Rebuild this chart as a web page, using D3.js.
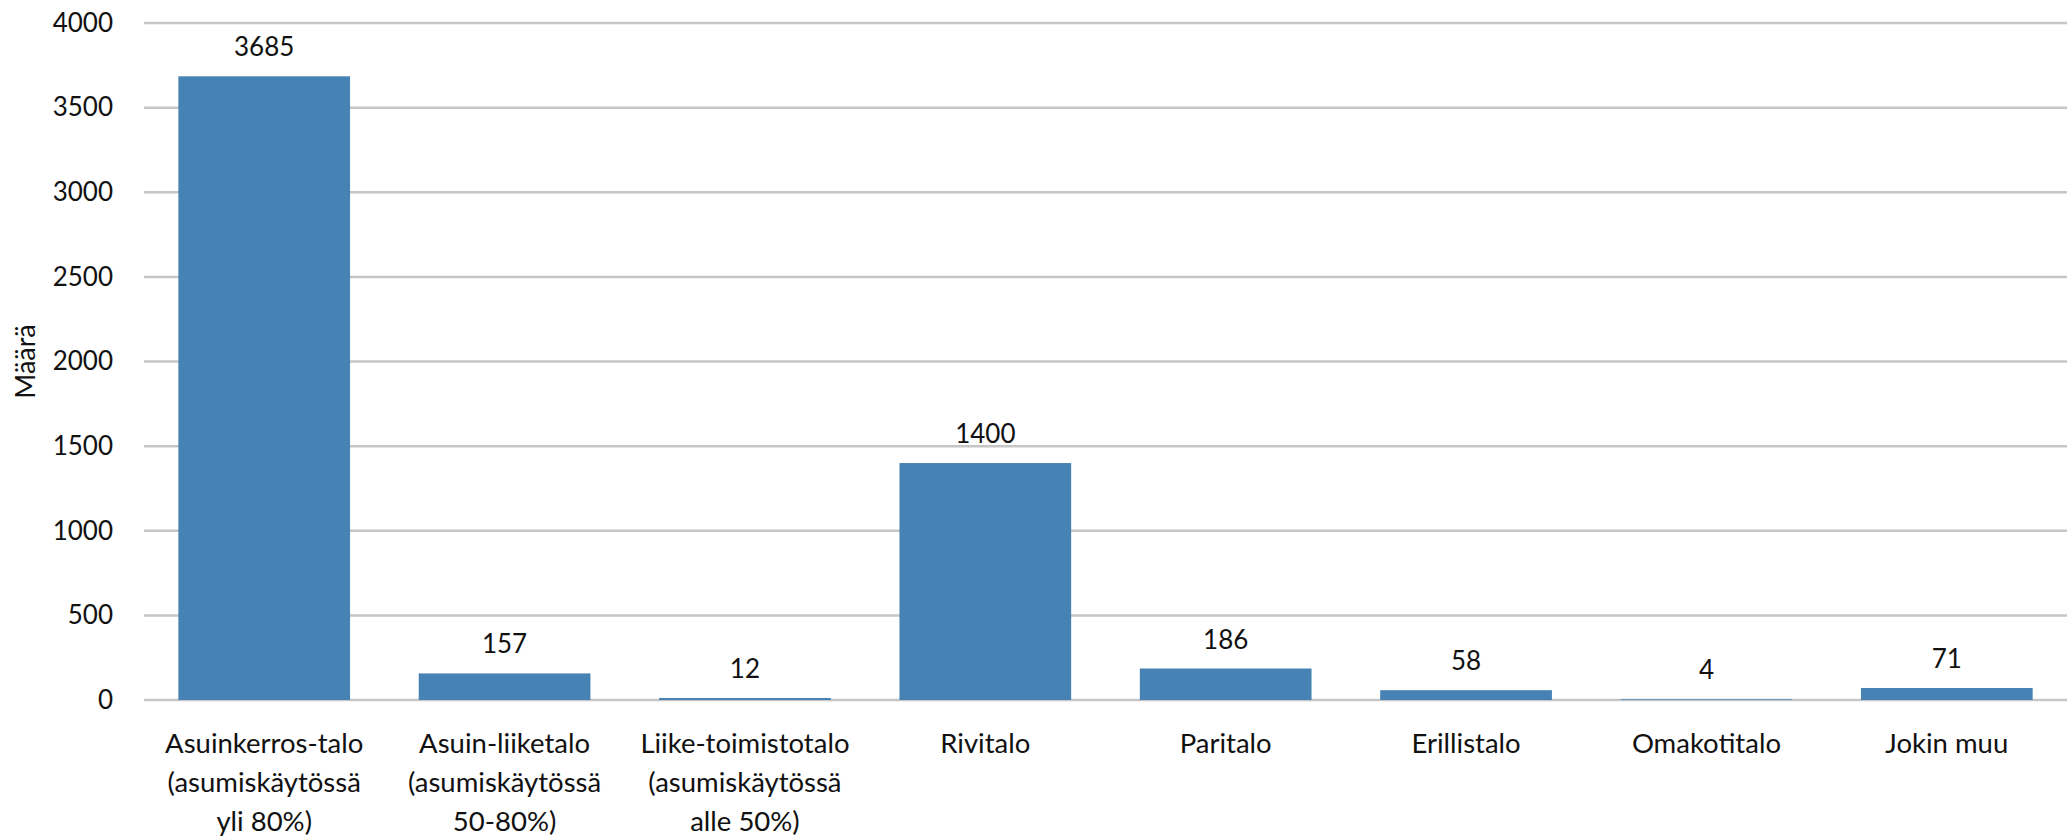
<!DOCTYPE html>
<html>
<head>
<meta charset="utf-8">
<script src="https://cdn.jsdelivr.net/npm/d3@7"></script>
<style>
html, body { margin: 0; padding: 0; background: #fff; }
svg { display: block; font-family: Lato, "Open Sans", sans-serif; }
</style>
</head>
<body>
<svg id="chart"></svg>
<script>
// kategoriat (rivit), arvot ja y-akselin jaot
const categories = [
  ['Asuinkerros-talo', '(asumiskäytössä', 'yli 80%)'],
  ['Asuin-liiketalo', '(asumiskäytössä', '50-80%)'],
  ['Liike-toimistotalo', '(asumiskäytössä', 'alle 50%)'],
  ['Rivitalo'],
  ['Paritalo'],
  ['Erillistalo'],
  ['Omakotitalo'],
  ['Jokin muu']
]
const values = [3685, 157, 12, 1400, 186, 58, 4, 71]
const yTicks = [0, 500, 1000, 1500, 2000, 2500, 3000, 3500, 4000]
const yTitle = 'Määrä'

const w = 2067, h = 837
const m = { top: 23, left: 144, right: 0, bottom: 137 }
const svg = d3.select('#chart').attr('width', w).attr('height', h)

const keys = categories.map(c => c.join(' '))
const x = d3.scaleBand().domain(keys).range([m.left, w - m.right]).paddingInner(0.2857).paddingOuter(0.1429)
const y = d3.scaleLinear().domain([0, 4000]).range([h - m.bottom, m.top])

// gridlines
svg.append('g').selectAll('line').data(yTicks).enter().append('line')
  .attr('x1', m.left).attr('x2', w - m.right)
  .attr('y1', d => y(d)).attr('y2', d => y(d))
  .attr('stroke', '#c6c6c6').attr('stroke-width', 2.5)

// y tick labels
const yAxis = svg.append('g').attr('transform', `translate(${m.left},0)`)
  .call(d3.axisLeft(y).tickValues(yTicks).tickFormat(d3.format('d')).tickSize(0).tickPadding(31))
yAxis.select('.domain').remove()
yAxis.selectAll('text').attr('font-size', 26).attr('font-family', 'Lato').attr('fill', '#111')

svg.append('text').attr('transform', `translate(35,${(y(0) + y(4000)) / 2}) rotate(-90)`)
  .attr('text-anchor', 'middle').attr('font-size', 27).attr('fill', '#111').text(yTitle)

// bars
svg.append('g').selectAll('rect').data(values).enter().append('rect')
  .attr('x', (d, i) => x(keys[i])).attr('width', x.bandwidth())
  .attr('y', d => y(d)).attr('height', d => y(0) - y(d))
  .attr('fill', '#4682b4')

// value labels
svg.append('g').selectAll('text').data(values).enter().append('text')
  .attr('x', (d, i) => x(keys[i]) + x.bandwidth() / 2)
  .attr('y', d => y(d) - 20)
  .attr('text-anchor', 'middle').attr('font-size', 26).attr('fill', '#111')
  .text(d => d)

// category labels
const cat = svg.append('g').selectAll('text').data(categories).enter().append('text')
  .attr('x', (d, i) => x(keys[i]) + x.bandwidth() / 2)
  .attr('y', y(0) + 53)
  .attr('text-anchor', 'middle').attr('font-size', 27.5).attr('fill', '#111')
cat.selectAll('tspan').data(d => d).enter().append('tspan')
  .attr('x', function () { return d3.select(this.parentNode).attr('x') })
  .attr('dy', (d, i) => i ? 39 : 0)
  .text(d => d)
</script>
</body>
</html>
